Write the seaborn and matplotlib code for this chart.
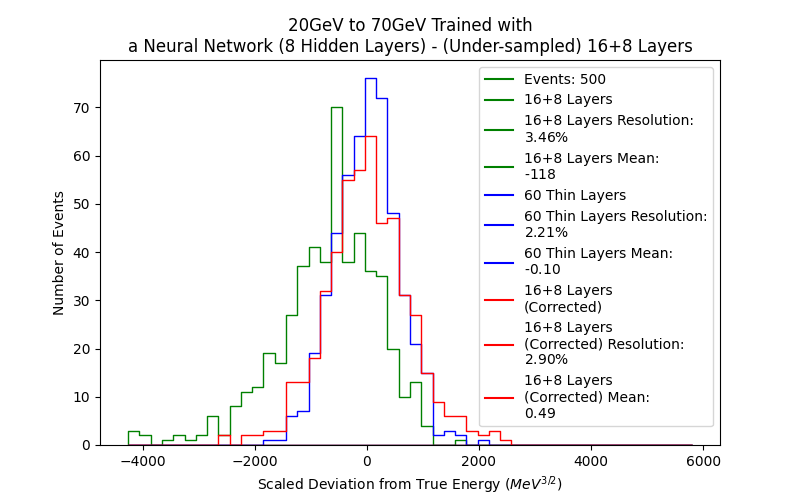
import numpy as np
import pandas as pd
import matplotlib
matplotlib.use("Agg")
import matplotlib.pyplot as plt
from matplotlib.lines import Line2D
import seaborn as sns

# ---- data ----
x_min = -4256.0
x_max = 5797.0
n_bins = 50

green_counts = [3, 2, 0, 1, 2, 1, 2, 6, 2, 8,
                11, 12, 19, 17, 27, 37, 41, 38, 70, 38,
                44, 36, 35, 20, 10, 13, 4, 0, 0, 1,
                0, 0, 0, 0, 0, 0, 0, 0, 0, 0,
                0, 0, 0, 0, 0, 0, 0, 0, 0, 0]
blue_counts = [0, 0, 0, 0, 0, 0, 0, 0, 0, 0,
               0, 0, 1, 1, 6, 7, 19, 31, 44, 56,
               64, 76, 72, 48, 31, 21, 15, 2, 3, 2,
               0, 1, 0, 0, 0, 0, 0, 0, 0, 0,
               0, 0, 0, 0, 0, 0, 0, 0, 0, 0]
red_counts = [0, 0, 0, 0, 0, 0, 0, 0, 2, 0,
              2, 2, 3, 3, 13, 13, 18, 32, 40, 55,
              57, 64, 46, 47, 31, 27, 15, 9, 6, 6,
              3, 2, 3, 1, 0, 0, 0, 0, 0, 0,
              0, 0, 0, 0, 0, 0, 0, 0, 0, 0]

series_names = ["16+8 Layers", "60 Thin Layers", "16+8 Layers (Corrected)"]
series_colors = ["green", "blue", "red"]

legend_labels = [
    "Events: 500",
    "16+8 Layers",
    "16+8 Layers Resolution:\n$3.46\\%$",
    "16+8 Layers Mean:\n$\\text{-118}$",
    "60 Thin Layers",
    "60 Thin Layers Resolution:\n$2.21\\%$",
    "60 Thin Layers Mean:\n$\\text{-0.10}$",
    "16+8 Layers\n(Corrected)",
    "16+8 Layers\n(Corrected) Resolution:\n$2.90\\%$",
    "16+8 Layers\n(Corrected) Mean:\n$0.49$",
]
legend_colors = ["green", "green", "green", "green",
                 "blue", "blue", "blue",
                 "red", "red", "red"]

title = "20GeV to 70GeV Trained with\na Neural Network (8 Hidden Layers) - (Under-sampled) 16+8 Layers"
xlabel = "Scaled Deviation from True Energy ($MeV^{3/2}$)"
ylabel = "Number of Events"

# ---- build ----
edges = np.linspace(x_min, x_max, n_bins + 1)
centers = 0.5 * (edges[:-1] + edges[1:])

rows = []
for name, counts in zip(series_names, [green_counts, blue_counts, red_counts]):
    for c, n in zip(centers, counts):
        rows.append({"series": name, "x": c, "count": n})
df = pd.DataFrame(rows)

fig, ax = plt.subplots(figsize=(8, 5), dpi=100)

for name, color in zip(series_names, series_colors):
    sub = df[df["series"] == name]
    sns.histplot(data=sub, x="x", weights="count", bins=list(edges),
                 element="step", fill=True, color=color, facecolor="none",
                 edgecolor=color, linewidth=1.0, ax=ax)

ax.set_title(title, fontsize=12)
ax.set_xlabel(xlabel)
ax.set_ylabel(ylabel)
ax.set_xticks([-4000, -2000, 0, 2000, 4000, 6000])

handles = [Line2D([], [], color=c, linewidth=1.5) for c in legend_colors]
ax.legend(handles, legend_labels, loc="upper right")

fig.savefig("out.png", dpi=100)
